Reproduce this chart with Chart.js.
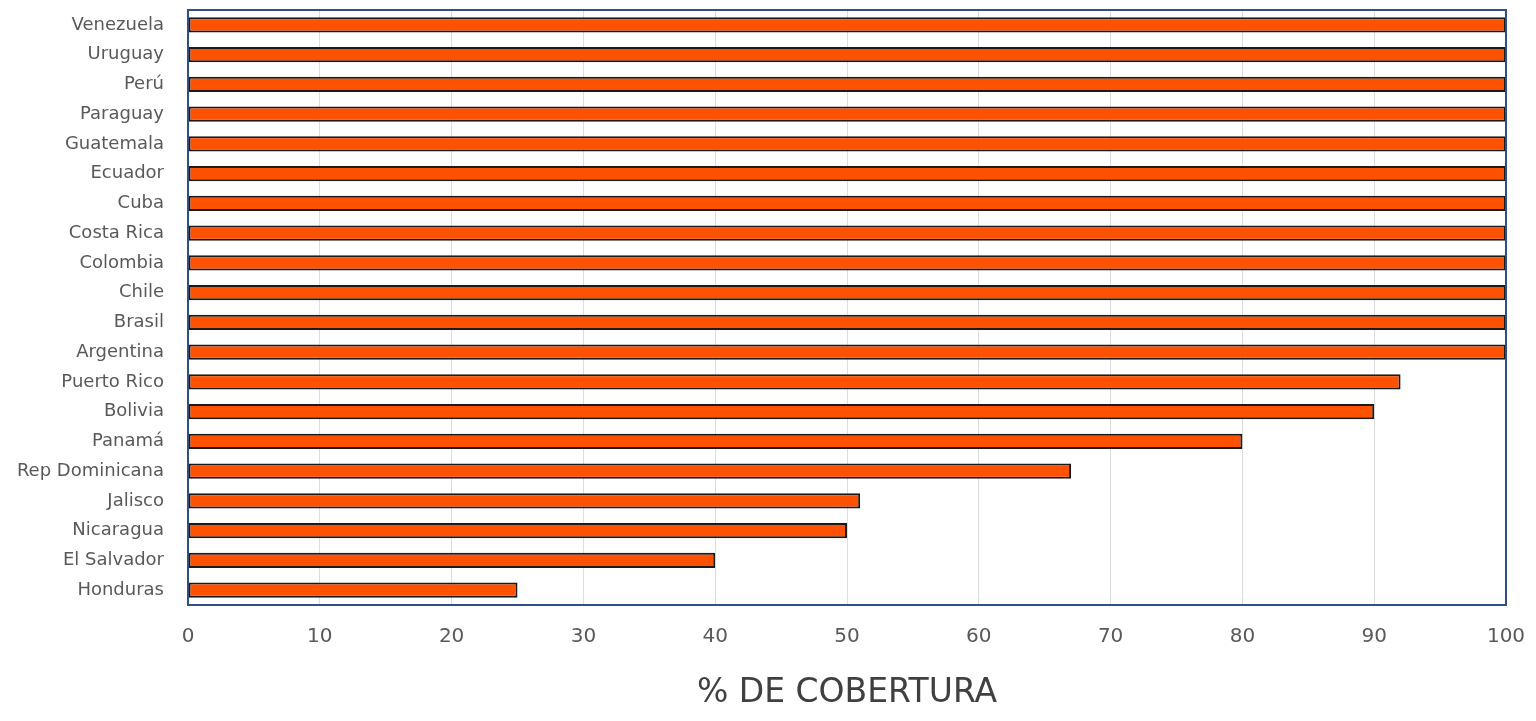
<!DOCTYPE html>
<html>
<head>
<meta charset="utf-8">
<script src="https://cdn.jsdelivr.net/npm/chart.js@4"></script>
<style>
  html, body { margin: 0; padding: 0; background: #fff; }
  #wrap { width: 1536px; height: 721px; }
</style>
</head>
<body>
<div id="wrap"><canvas id="coberturaChart"></canvas></div>
<script>
// Datos
const paises = ['Venezuela', 'Uruguay', 'Perú', 'Paraguay', 'Guatemala', 'Ecuador', 'Cuba',
    'Costa Rica', 'Colombia', 'Chile', 'Brasil', 'Argentina', 'Puerto Rico', 'Bolivia',
    'Panamá', 'Rep Dominicana', 'Jalisco', 'Nicaragua', 'El Salvador', 'Honduras'];
const cobertura = [100, 100, 100, 100, 100, 100, 100, 100, 100, 100, 100, 100,
    92, 90, 80, 67, 51, 50, 40, 25];
const ticksX = [0, 10, 20, 30, 40, 50, 60, 70, 80, 90, 100];

// Marco del área de trazado
const marcoPlugin = {
    id: 'marco',
    afterDatasetsDraw(chart) {
        const { ctx, chartArea } = chart;
        ctx.save();
        ctx.strokeStyle = '#2f4f86';
        ctx.lineWidth = 2;
        ctx.strokeRect(chartArea.left, chartArea.top, chartArea.right - chartArea.left, chartArea.bottom - chartArea.top);
        ctx.restore();
    }
};

const ctx = document.getElementById('coberturaChart').getContext('2d');
const chart = new Chart(ctx, {
    type: 'bar',
    data: {
        labels: paises,
        datasets: [{
            label: '% de cobertura',
            data: cobertura,
            backgroundColor: '#ff5200',
            borderColor: '#1a1a1a',
            borderWidth: 2,
            borderSkipped: false,
            categoryPercentage: 1,
            barPercentage: 0.52
        }]
    },
    options: {
        indexAxis: 'y',
        responsive: true,
        maintainAspectRatio: false,
        animation: false,
        layout: { padding: { top: 10, right: 30, left: 0, bottom: 5 } },
        plugins: {
            legend: { display: false },
            tooltip: { enabled: false }
        },
        scales: {
            x: {
                min: 0,
                max: 100,
                afterBuildTicks: (scale) => { scale.ticks = ticksX.map(v => ({ value: v })); },
                grid: { color: '#dddddd', drawTicks: false },
                border: { display: false },
                ticks: { color: '#595959', font: { family: 'DejaVu Sans', size: 20 }, padding: 20, maxRotation: 0 },
                title: { display: true, text: '% DE COBERTURA', color: '#404040', font: { family: 'DejaVu Sans', size: 33 }, padding: { top: 10, bottom: 3 } },
                afterFit: (scale) => {
                    scale.height = 111;
                    scale.paddingLeft = 0;
                    scale.paddingRight = 0;
                }
            },
            y: {
                grid: { display: false, drawTicks: false },
                border: { display: false },
                ticks: { color: '#595959', font: { family: 'DejaVu Sans', size: 18 }, padding: 24 },
                afterFit: (scale) => {
                    scale.width = 188;
                    scale.paddingTop = 0;
                    scale.paddingBottom = 0;
                }
            }
        }
    },
    plugins: [marcoPlugin]
});
</script>
</body>
</html>
